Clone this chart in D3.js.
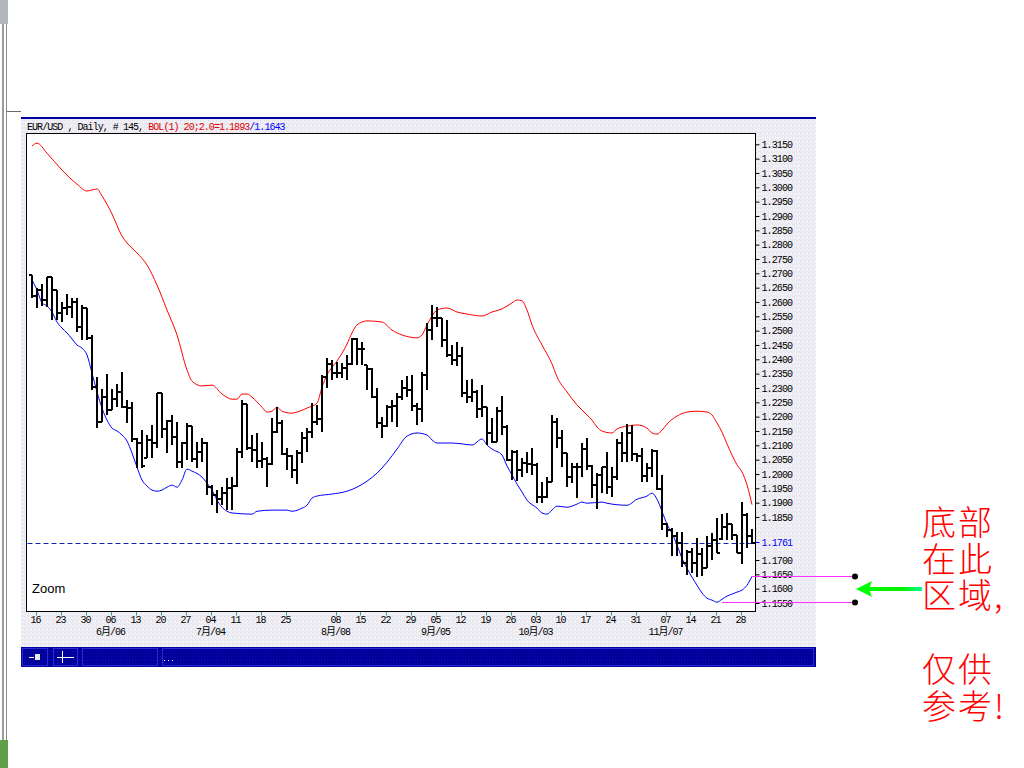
<!DOCTYPE html>
<html><head><meta charset="utf-8">
<script src="https://cdn.jsdelivr.net/npm/d3@7"></script>
<style>body{margin:0;background:#fff;overflow:hidden}svg{display:block}</style>
</head><body><svg id="c" width="1024" height="768"></svg>
<script>
// ---------------- DATA ----------------
const opens = [1.2694,1.2621,1.2642,1.2607,1.2686,1.2642,1.2560,1.2578,1.2582,1.2601,
1.2512,1.2580,1.2473,1.2305,1.2182,1.2267,1.2223,1.2262,1.2285,1.2233,
1.2229,1.2122,1.2107,1.2057,1.2119,1.2109,1.2281,1.2157,1.2185,1.2128,
1.2043,1.2109,1.2169,1.2052,1.2075,1.2109,1.1956,1.1927,1.1912,1.1935,
1.1950,1.1958,1.2075,1.2244,1.2092,1.2084,1.2047,1.2052,1.2034,1.2145,
1.2177,1.2070,1.2063,1.2014,1.2072,1.2127,1.2148,1.2180,1.2191,1.2340,
1.2384,1.2354,1.2354,1.2369,1.2384,1.2470,1.2435,1.2380,1.2366,1.2270,
1.2177,1.2168,1.2232,1.2237,1.2270,1.2299,1.2293,1.2237,1.2226,1.2345,
1.2502,1.2543,1.2543,1.2468,1.2415,1.2398,1.2412,1.2284,1.2268,1.2287,
1.2226,1.2233,1.2142,1.2113,1.2218,1.2165,1.2049,1.2075,1.2014,1.2037,
1.2035,1.2032,1.1919,1.1919,1.1973,1.2183,1.2125,1.2072,1.1991,1.2023,
1.2026,1.2086,1.2028,1.1962,1.1997,1.2023,1.1954,1.1988,1.2107,1.2072,
1.2142,1.2070,1.2063,1.1993,1.2020,1.2080,1.1946,1.1826,1.1805,1.1784,
1.1760,1.1688,1.1729,1.1691,1.1721,1.1671,1.1750,1.1770,1.1772,1.1816,
1.1826,1.1787,1.1725,1.1857,1.1784];
const highs = [1.2694,1.2648,1.2662,1.2688,1.2688,1.2642,1.2601,1.2627,1.2613,1.2615,
1.2589,1.2580,1.2485,1.2339,1.2296,1.2348,1.2295,1.2313,1.2355,1.2258,
1.2252,1.2124,1.2153,1.2136,1.2171,1.2284,1.2281,1.2188,1.2206,1.2183,
1.2113,1.2177,1.2169,1.2113,1.2125,1.2113,1.1962,1.1944,1.1954,1.1985,
1.1991,1.2090,1.2258,1.2244,1.2136,1.2142,1.2113,1.2061,1.2194,1.2235,
1.2188,1.2090,1.2066,1.2084,1.2148,1.2159,1.2247,1.2241,1.2345,1.2404,
1.2398,1.2392,1.2386,1.2415,1.2473,1.2473,1.2462,1.2380,1.2369,1.2299,
1.2200,1.2241,1.2258,1.2282,1.2328,1.2342,1.2345,1.2247,1.2357,1.2526,
1.2590,1.2584,1.2543,1.2537,1.2450,1.2462,1.2444,1.2328,1.2330,1.2293,
1.2311,1.2235,1.2194,1.2235,1.2272,1.2171,1.2084,1.2082,1.2055,1.2076,
1.2090,1.2037,1.1973,1.1989,1.2206,1.2194,1.2154,1.2072,1.2037,1.2040,
1.2109,1.2125,1.2032,1.2005,1.2026,1.2078,1.2025,1.2121,1.2148,1.2174,
1.2171,1.2072,1.2089,1.2037,1.2086,1.2084,1.1996,1.1828,1.1810,1.1799,
1.1799,1.1735,1.1741,1.1775,1.1743,1.1784,1.1795,1.1845,1.1860,1.1863,
1.1826,1.1787,1.1903,1.1863,1.1807];
const lows = [1.2613,1.2580,1.2587,1.2584,1.2537,1.2537,1.2531,1.2555,1.2543,1.2496,
1.2467,1.2467,1.2293,1.2159,1.2182,1.2206,1.2223,1.2235,1.2229,1.2177,
1.2113,1.2020,1.2020,1.2057,1.2057,1.2092,1.2124,1.2072,1.2101,1.2020,
1.2020,1.2049,1.2043,1.2020,1.2043,1.1927,1.1892,1.1865,1.1892,1.1875,
1.1875,1.1956,1.2055,1.2084,1.2043,1.2020,1.2020,1.1956,1.2030,1.2142,
1.2066,1.2014,1.1985,1.1965,1.2037,1.2075,1.2125,1.2171,1.2148,1.2299,
1.2328,1.2334,1.2334,1.2328,1.2380,1.2380,1.2380,1.2293,1.2264,1.2159,
1.2125,1.2165,1.2183,1.2163,1.2258,1.2270,1.2218,1.2171,1.2183,1.2293,
1.2468,1.2514,1.2444,1.2409,1.2380,1.2375,1.2270,1.2247,1.2252,1.2194,
1.2200,1.2101,1.2107,1.2113,1.2136,1.2047,1.1979,1.1977,1.1991,1.2002,
1.1997,1.1900,1.1900,1.1915,1.1973,1.2090,1.2026,1.1956,1.1968,1.1915,
1.1989,1.2014,1.1915,1.1877,1.1933,1.1930,1.1921,1.1979,1.2043,1.2043,
1.2046,1.2043,1.1973,1.1973,1.1991,1.1944,1.1805,1.1781,1.1714,1.1714,
1.1677,1.1648,1.1653,1.1642,1.1644,1.1671,1.1700,1.1723,1.1770,1.1770,
1.1770,1.1723,1.1686,1.1741,1.1756];
const closes = [1.2621,1.2642,1.2607,1.2686,1.2642,1.2560,1.2578,1.2582,1.2601,1.2512,
1.2580,1.2473,1.2305,1.2182,1.2267,1.2223,1.2262,1.2285,1.2233,1.2229,
1.2122,1.2107,1.2029,1.2119,1.2109,1.2281,1.2157,1.2185,1.2128,1.2043,
1.2109,1.2169,1.2052,1.2075,1.2109,1.1956,1.1927,1.1912,1.1935,1.1950,
1.1958,1.2075,1.2244,1.2092,1.2084,1.2047,1.2052,1.2034,1.2145,1.2177,
1.2070,1.2063,1.2014,1.2072,1.2127,1.2148,1.2180,1.2191,1.2340,1.2384,
1.2354,1.2354,1.2369,1.2384,1.2470,1.2435,1.2435,1.2366,1.2270,1.2177,
1.2168,1.2232,1.2237,1.2270,1.2299,1.2293,1.2237,1.2226,1.2345,1.2502,
1.2543,1.2543,1.2468,1.2415,1.2398,1.2412,1.2284,1.2268,1.2287,1.2226,
1.2233,1.2142,1.2113,1.2218,1.2165,1.2049,1.2075,1.2014,1.2037,1.2035,
1.2032,1.1919,1.1919,1.1973,1.2183,1.2125,1.2072,1.1991,1.2023,1.2026,
1.2086,1.2028,1.1962,1.1997,1.2023,1.1954,1.1988,1.2107,1.2072,1.2142,
1.2070,1.2063,1.1993,1.2020,1.2080,1.1946,1.1826,1.1805,1.1784,1.1760,
1.1688,1.1729,1.1691,1.1721,1.1671,1.1750,1.1770,1.1725,1.1816,1.1826,
1.1787,1.1725,1.1857,1.1784,1.1761];

const upperIdx = [0,1,3,6,9,11,12,13,14,16,18,19,21,23,25,27,29,31,32,34,36,38,40,41,42,43,44,46,47,48,49,50,52,53,55,57,58,59,61,63,64,65,67,70,72,74,77,78,79,80,81,83,85,87,90,92,94,96,97,98,99,100,102,104,105,107,109,111,112,113,114,116,117,119,121,123,124,125,126,127,129,131,133,135,136,137,138,139,140,141,142,143,144];
const upperBand = [1.3144,1.3154,1.3119,1.3060,1.3011,1.2987,1.2991,1.2994,1.2970,1.2907,1.2830,1.2806,1.2771,1.2729,1.2659,1.2572,1.2485,1.2363,1.2324,1.2307,1.2310,1.2279,1.2261,1.2261,1.2279,1.2279,1.2268,1.2233,1.2216,1.2219,1.2233,1.2219,1.2212,1.2216,1.2230,1.2247,1.2303,1.2345,1.2394,1.2453,1.2492,1.2520,1.2534,1.2530,1.2502,1.2485,1.2475,1.2485,1.2520,1.2551,1.2572,1.2579,1.2565,1.2558,1.2551,1.2565,1.2576,1.2597,1.2607,1.2604,1.2572,1.2520,1.2450,1.2384,1.2339,1.2286,1.2241,1.2206,1.2188,1.2164,1.2150,1.2143,1.2157,1.2167,1.2171,1.2160,1.2143,1.2139,1.2153,1.2174,1.2202,1.2216,1.2219,1.2216,1.2206,1.2178,1.2146,1.2105,1.2066,1.2032,1.2007,1.1962,1.1893];
const lowerIdx = [0,1,2,3,4,5,6,7,8,9,10,11,12,13,14,15,16,17,18,19,20,21,22,23,24,25,26,27,28,29,30,31,32,34,35,36,37,38,39,40,44,45,48,51,52,54,55,56,57,60,63,65,67,69,71,73,75,77,79,80,81,84,86,88,90,91,92,94,95,96,97,98,99,101,102,103,104,105,107,109,110,111,114,115,119,121,123,124,125,126,127,128,129,130,131,132,133,134,135,136,137,138,139,140,141,142,143,144];
const lowerBand = [1.2677,1.2642,1.2597,1.2586,1.2565,1.2530,1.2509,1.2492,1.2471,1.2450,1.2439,1.2415,1.2352,1.2286,1.2230,1.2188,1.2160,1.2150,1.2136,1.2115,1.2073,1.2024,1.1979,1.1958,1.1944,1.1940,1.1944,1.1954,1.1961,1.1954,1.1979,1.2017,1.2010,1.1989,1.1968,1.1944,1.1909,1.1884,1.1870,1.1864,1.1860,1.1870,1.1874,1.1874,1.1870,1.1881,1.1891,1.1916,1.1923,1.1930,1.1940,1.1954,1.1975,1.2003,1.2041,1.2087,1.2132,1.2143,1.2136,1.2119,1.2108,1.2108,1.2105,1.2101,1.2122,1.2101,1.2087,1.2066,1.2028,1.1997,1.1965,1.1937,1.1909,1.1881,1.1864,1.1860,1.1874,1.1888,1.1884,1.1895,1.1902,1.1898,1.1902,1.1898,1.1891,1.1912,1.1923,1.1933,1.1912,1.1870,1.1825,1.1793,1.1752,1.1706,1.1671,1.1640,1.1612,1.1585,1.1567,1.1560,1.1553,1.1563,1.1574,1.1581,1.1588,1.1595,1.1612,1.1643];

const priceTicks = [1.3150,1.3100,1.3050,1.3000,1.2950,1.2900,1.2850,1.2800,1.2750,1.2700,1.2650,1.2600,1.2550,1.2500,1.2450,1.2400,1.2350,1.2300,1.2250,1.2200,1.2150,1.2100,1.2050,1.2000,1.1950,1.1900,1.1850,1.1700,1.1650,1.1600,1.1550];
const lastClose = 1.1761;
const dayLabels = ["16","23","30","06","13","20","27","04","11","18","25","08","15","22","29","05","12","19","26","03","10","17","24","31","07","14","21","28"];
const dayIdx = [1,6,11,16,21,26,31,36,41,46,51,61,66,71,76,81,86,91,96,101,106,111,116,121,127,132,137,142];
const monthLabels = ["6月/06","7月/04","8月/08","9月/05","10月/03","11月/07"];
const monthIdx = [16,36,61,81,101,127];
const zoneLevels = [1.1643, 1.1553];
const zoneStartIdx = [144, 138];
const headerParts = [["EUR/USD , Daily, # 145, ","#000"],["BOL(1) 20;2.0=1.1893","#e00000"],["/1.1643","#0000ff"]];
const noteLines = ["底部","在此","区域,","","仅供","参考!"];

// ---------------- DRAW ----------------
const svg = d3.select("#c");
const defs = svg.append("defs");
const pat = defs.append("pattern").attr("id","dither").attr("width",4).attr("height",4).attr("patternUnits","userSpaceOnUse");
pat.append("rect").attr("width",4).attr("height",4).attr("fill","#eeedf1");
[[0,0,"#f5d8ee"],[2,1,"#d8eef5"],[1,2,"#fbfbfb"],[3,3,"#f2dcef"],[1,3,"#dcf1f2"],[3,1,"#ffffff"],[0,2,"#e2e6f6"],[2,3,"#f8eaf2"]]
  .forEach(([px,py,c])=>pat.append("rect").attr("x",px).attr("y",py).attr("width",1).attr("height",1).attr("fill",c));
const pat2 = defs.append("pattern").attr("id","navy").attr("width",3).attr("height",3).attr("patternUnits","userSpaceOnUse");
pat2.append("rect").attr("width",3).attr("height",3).attr("fill","#00009a");
[[0,0,"#0a0ab8"],[2,1,"#000080"],[1,2,"#0606aa"]].forEach(([px,py,c])=>pat2.append("rect").attr("x",px).attr("y",py).attr("width",1).attr("height",1).attr("fill",c));
const grad = defs.append("linearGradient").attr("id","arrowGrad").attr("gradientUnits","userSpaceOnUse")
  .attr("x1",856).attr("x2",922).attr("y1",0).attr("y2",0);
grad.append("stop").attr("offset","0%").attr("stop-color","#00ff00");
grad.append("stop").attr("offset","70%").attr("stop-color","#00f000");
grad.append("stop").attr("offset","100%").attr("stop-color","#00ff90");

// window chrome on the left
svg.append("rect").attr("x",0).attr("y",0).attr("width",8).attr("height",24).attr("fill","#b4b6be");
svg.append("rect").attr("x",2).attr("y",24).attr("width",2).attr("height",716).attr("fill","#9a9aa2");
svg.append("rect").attr("x",6).attr("y",24).attr("width",1).attr("height",716).attr("fill","#8a8a90");
svg.append("rect").attr("x",0).attr("y",740).attr("width",8).attr("height",28).attr("fill","#5f9f48");
svg.append("line").attr("x1",7).attr("x2",21).attr("y1",111.5).attr("y2",111.5).attr("stroke","#6a6a6a");

// panel
svg.append("rect").attr("x",21).attr("y",118).attr("width",795).attr("height",530).attr("fill","url(#dither)");
svg.append("rect").attr("x",21).attr("y",117).attr("width",795).attr("height",2).attr("fill","#0000a8");

// header
const ht = svg.append("text").attr("x",27).attr("y",129.5)
  .style("font-family","'Liberation Mono', monospace").style("font-size","10px").style("letter-spacing","-0.95px");
headerParts.forEach(([t,c])=>ht.append("tspan").attr("fill",c).text(t));

// plot frame
const L=26.5, T=133.5, R=755.5, B=611.5;
svg.append("rect").attr("x",L).attr("y",T).attr("width",R-L).attr("height",B-T).attr("fill","#fff").attr("stroke","#000").attr("stroke-width",1);

const x = d3.scaleLinear().domain([0,144]).range([32,752]);
const y = d3.scaleLinear().domain([1.1550,1.3150]).range([603,144.3]);

// Bollinger bands
const line = d3.line().x(d=>x(d[0])).y(d=>y(d[1])).curve(d3.curveMonotoneX);
svg.append("path").datum(upperIdx.map((d,i)=>[d,upperBand[i]])).attr("d",line).attr("fill","none").attr("stroke","#ff0000").attr("stroke-width",1);
svg.append("path").datum(lowerIdx.map((d,i)=>[d,lowerBand[i]])).attr("d",line).attr("fill","none").attr("stroke","#0000ff").attr("stroke-width",1);

// last close dashed line
svg.append("line").attr("x1",L+1).attr("x2",R).attr("y1",Math.round(y(lastClose))+0.5).attr("y2",Math.round(y(lastClose))+0.5)
  .attr("stroke","#1428b4").attr("stroke-dasharray","5,3").attr("stroke-width",1);

// OHLC bars
const bars = svg.append("g").attr("stroke","#000").attr("shape-rendering","crispEdges");
closes.forEach((c,i)=>{
  const xi = x(i);
  bars.append("line").attr("x1",xi).attr("x2",xi).attr("y1",y(highs[i])).attr("y2",y(lows[i])).attr("stroke-width",2);
  bars.append("line").attr("x1",xi-3).attr("x2",xi).attr("y1",y(opens[i])).attr("y2",y(opens[i])).attr("stroke-width",2);
  bars.append("line").attr("x1",xi).attr("x2",xi+3).attr("y1",y(c)).attr("y2",y(c)).attr("stroke-width",2);
});

// right price axis
const ax = svg.append("g").attr("transform",`translate(${R},0)`)
  .call(d3.axisRight(y).tickValues(priceTicks).tickSize(4).tickPadding(2).tickFormat(d3.format(".4f")));
ax.select(".domain").remove();
ax.selectAll("line").attr("stroke","#000");
ax.selectAll("text").attr("fill","#000").style("font-family","'Liberation Mono', monospace").style("font-size","10px").style("letter-spacing","-0.9px");
// last close label
const ly = y(lastClose);
svg.append("line").attr("x1",R).attr("x2",R+4).attr("y1",ly).attr("y2",ly).attr("stroke","#0000ff");
svg.append("text").attr("x",R+6).attr("y",ly).attr("dy","0.32em").attr("fill","#0000ff")
  .style("font-family","'Liberation Mono', monospace").style("font-size","10px").style("letter-spacing","-0.9px").text(lastClose.toFixed(4));

// bottom date axis
const dg = svg.append("g");
dayIdx.forEach((d,i)=>{
  const xx = Math.round(x(d)-1.5)+0.5;
  dg.append("line").attr("x1",xx).attr("x2",xx).attr("y1",B+0.5).attr("y2",B+4).attr("stroke","#3f9aa0");
  dg.append("text").attr("x",x(d)-1.5).attr("y",623).attr("text-anchor","middle").attr("fill","#000")
    .style("font-family","'Liberation Mono', monospace").style("font-size","10px").style("letter-spacing","-1px").text(dayLabels[i]);
});
monthIdx.forEach((d,i)=>{
  dg.append("text").attr("x",x(d)-1.5).attr("y",634.5).attr("text-anchor","middle").attr("fill","#000")
    .style("font-family","'Liberation Mono','Noto Sans CJK SC', monospace").style("font-size","10px").style("letter-spacing","-1px").text(monthLabels[i]);
});

// Zoom label
svg.append("text").attr("x",32).attr("y",593).attr("fill","#000")
  .style("font-family","'Liberation Sans', Arial, sans-serif").style("font-size","13px").text("Zoom");

// toolbar
const tb = svg.append("g");
tb.append("rect").attr("x",21).attr("y",647).attr("width",795).attr("height",20).attr("fill","url(#navy)");
[[22,47],[53,77],[82,157],[162,813]].forEach(([a,b])=>tb.append("rect").attr("x",a+0.5).attr("y",648.5).attr("width",b-a).attr("height",17).attr("fill","none").attr("stroke","#2a2ad8"));
tb.append("line").attr("x1",29).attr("x2",34).attr("y1",657.5).attr("y2",657.5).attr("stroke","#fff");
tb.append("rect").attr("x",35).attr("y",654).attr("width",5).attr("height",6).attr("fill","#e8e8e8");
tb.append("line").attr("x1",57).attr("x2",74).attr("y1",657.5).attr("y2",657.5).attr("stroke","#fff");
tb.append("line").attr("x1",62.5).attr("x2",62.5).attr("y1",651).attr("y2",663).attr("stroke","#fff");
[164,168,172].forEach(px=>tb.append("rect").attr("x",px).attr("y",660).attr("width",1).attr("height",1).attr("fill","#fff"));

// marked zone lines
zoneLevels.forEach((v,i)=>{
  const yy = Math.round(y(v))+0.5;
  svg.append("line").attr("x1",x(zoneStartIdx[i])).attr("x2",855).attr("y1",yy).attr("y2",yy).attr("stroke","#ff30ff").attr("stroke-width",1);
  svg.append("circle").attr("cx",855).attr("cy",yy).attr("r",3).attr("fill","#000");
});

// green arrow
svg.append("rect").attr("x",866).attr("y",587).attr("width",56).attr("height",4).attr("fill","url(#arrowGrad)");
svg.append("path").attr("d","M856,589 L872,581 L869,589 L872,597 Z").attr("fill","#00ff00");

// Chinese note (one text block, one line per tspan)
const note = svg.append("text").attr("fill","#ff0000")
  .style("font-family","'Noto Sans CJK SC', sans-serif").style("font-weight","300")
  .style("font-size","34px").style("letter-spacing","2px");
let gap = 0;
noteLines.forEach((t,i)=>{
  if (t === "") { gap += 36.7; return; }
  note.append("tspan").attr("x",922).attr("y",535+i*36.7).text(t);
});
</script></body></html>
